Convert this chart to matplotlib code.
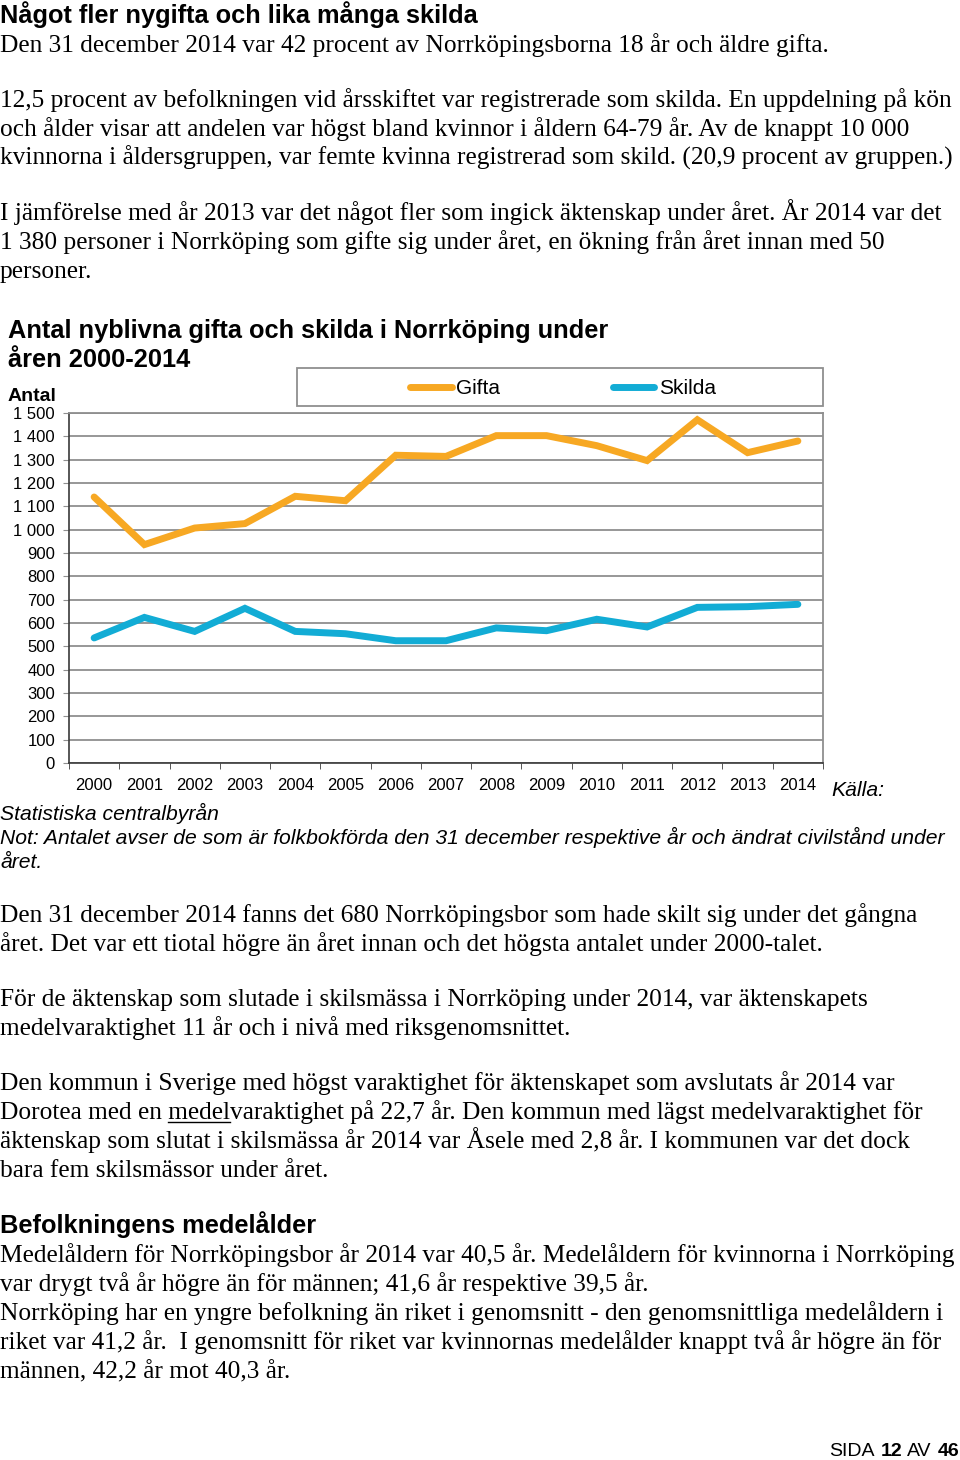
import matplotlib
matplotlib.use('Agg')
import matplotlib.pyplot as plt
from matplotlib.ticker import FuncFormatter
from matplotlib.patches import Rectangle
from matplotlib.lines import Line2D

plt.rcParams['font.family'] = ['Liberation Sans', 'DejaVu Sans']

# data
years = [str(y) for y in range(2000, 2015)]
gifta = [1140, 936, 1007, 1026, 1143, 1124, 1319, 1314, 1403, 1403, 1360, 1296, 1471, 1330, 1380]
skilda = [536, 624, 564, 663, 564, 554, 524, 524, 579, 567, 616, 583, 667, 670, 680]

ORANGE = '#F7A823'
BLUE = '#12ACD5'
GRID = '#8f8f8f'
AXIS = '#3a3a3a'

W, H = 960, 1460
fig = plt.figure(figsize=(W / 100, H / 100), dpi=100)


def fx(x):
    return x / W


def fy(y):
    return 1 - y / H


SERIF = ['Liberation Serif', 'DejaVu Serif']
SANS = ['Liberation Sans', 'DejaVu Sans']
BODY = 18.3


def body(x, y, s, **kw):
    return fig.text(fx(x), fy(y), s, family=SERIF, size=BODY, va='baseline', **kw)


def head(x, y, s, size=18.3):
    return fig.text(fx(x), fy(y), s, family=SANS, size=size, weight='bold', va='baseline')


def note(x, y, s):
    return fig.text(fx(x), fy(y), s, family=SANS, size=15.2, style='italic', va='baseline')


# text above the chart
head(0, 23, 'Något fler nygifta och lika många skilda')
body(0, 52, 'Den 31 december 2014 var 42 procent av Norrköpingsborna 18 år och äldre gifta.')
body(0, 107, '12,5 procent av befolkningen vid årsskiftet var registrerade som skilda. En uppdelning på kön')
body(0, 136, 'och ålder visar att andelen var högst bland kvinnor i åldern 64-79 år. Av de knappt 10 000')
body(0, 165, 'kvinnorna i åldersgruppen, var femte kvinna registrerad som skild. (20,9 procent av gruppen.)')
body(0, 220, 'I jämförelse med år 2013 var det något fler som ingick äktenskap under året. År 2014 var det')
body(0, 249, '1 380 personer i Norrköping som gifte sig under året, en ökning från året innan med 50')
body(0, 278, 'personer.')

head(8, 338, 'Antal nyblivna gifta och skilda i Norrköping under')
head(8, 367, 'åren 2000-2014')
head(8, 401, 'Antal', size=14)

# chart
ax = fig.add_axes([fx(69), fy(763), (823 - 69) / W, 350 / H])
x = list(range(len(years)))
ax.plot(x, gifta, color=ORANGE, lw=5, solid_joinstyle='miter', solid_capstyle='round', label='Gifta')
ax.plot(x, skilda, color=BLUE, lw=5, solid_joinstyle='miter', solid_capstyle='round', label='Skilda')

ax.set_xlim(-0.5, len(years) - 0.5)
ax.set_ylim(0, 1500)
ax.set_yticks(range(0, 1501, 100))
ax.yaxis.set_major_formatter(FuncFormatter(lambda v, p: f'{int(v):,}'.replace(',', ' ')))
ax.set_xticks(x)
ax.set_xticklabels(years)
ax.set_xticks([i - 0.5 for i in range(len(years) + 1)], minor=True)
ax.tick_params(axis='x', which='major', length=0, pad=11, labelsize=12)
ax.tick_params(axis='x', which='minor', length=4, direction='out', color=AXIS)
ax.tick_params(axis='y', length=4, color=GRID, pad=6, labelsize=12)
ax.grid(axis='y', color=GRID, lw=1.3)
ax.set_axisbelow(True)
for side in ['left', 'bottom']:
    ax.spines[side].set_color(AXIS)
    ax.spines[side].set_linewidth(1.2)
for side in ['top', 'right']:
    ax.spines[side].set_color(GRID)
    ax.spines[side].set_linewidth(1.3)

# legend box
fig.add_artist(Rectangle((fx(297), fy(406)), (823 - 297) / W, 38 / H, transform=fig.transFigure,
                         fill=False, ec=GRID, lw=1.3))
ax.legend(loc='center', bbox_to_anchor=(fx(563), fy(389)), bbox_transform=fig.transFigure,
          ncol=2, frameon=False, handlelength=2.0, handletextpad=0.2, columnspacing=5.4,
          fontsize=15, borderaxespad=0)

note(831, 796, 'Källa:')
note(0, 820, 'Statistiska centralbyrån')
note(0, 844, 'Not: Antalet avser de som är folkbokförda den 31 december respektive år och ändrat civilstånd under')
note(0, 868, 'året.')

# text below the chart
body(0, 922, 'Den 31 december 2014 fanns det 680 Norrköpingsbor som hade skilt sig under det gångna')
body(0, 951, 'året. Det var ett tiotal högre än året innan och det högsta antalet under 2000-talet.')
body(0, 1006, 'För de äktenskap som slutade i skilsmässa i Norrköping under 2014, var äktenskapets')
body(0, 1035, 'medelvaraktighet 11 år och i nivå med riksgenomsnittet.')
body(0, 1090, 'Den kommun i Sverige med högst varaktighet för äktenskapet som avslutats år 2014 var')
body(0, 1119, 'Dorotea med en medelvaraktighet på 22,7 år. Den kommun med lägst medelvaraktighet för')
body(0, 1148, 'äktenskap som slutat i skilsmässa år 2014 var Åsele med 2,8 år. I kommunen var det dock')
body(0, 1177, 'bara fem skilsmässor under året.')

head(0, 1233, 'Befolkningens medelålder')
body(0, 1262, 'Medelåldern för Norrköpingsbor år 2014 var 40,5 år. Medelåldern för kvinnorna i Norrköping')
body(0, 1291, 'var drygt två år högre än för männen; 41,6 år respektive 39,5 år.')
body(0, 1320, 'Norrköping har en yngre befolkning än riket i genomsnitt - den genomsnittliga medelåldern i')
body(0, 1349, 'riket var 41,2 år.  I genomsnitt för riket var kvinnornas medelålder knappt två år högre än för')
body(0, 1378, 'männen, 42,2 år mot 40,3 år.')

renderer = fig.canvas.get_renderer()


def width(s, **kw):
    t = fig.text(0, 0, s, **kw)
    w = t.get_window_extent(renderer).width
    t.remove()
    return w


# underline "medel" in the Dorotea line
end = width('Dorotea med en medel', family=SERIF, size=BODY)
start = end - width('medel', family=SERIF, size=BODY)
fig.add_artist(Line2D([fx(start), fx(end)], [fy(1122), fy(1122)], transform=fig.transFigure,
                      color='black', lw=1))

# page number, right aligned
pn = 14
space = 0.278 * pn * 100 / 72
xr = 959
for s, wt in [('46', 'bold'), ('AV', 'normal'), ('12', 'bold'), ('SIDA', 'normal')]:
    fig.text(fx(xr), fy(1456), s, family=SANS, size=pn, weight=wt, ha='right', va='baseline')
    xr -= width(s, family=SANS, size=pn, weight=wt) + space

fig.savefig('out.png', dpi=100)
